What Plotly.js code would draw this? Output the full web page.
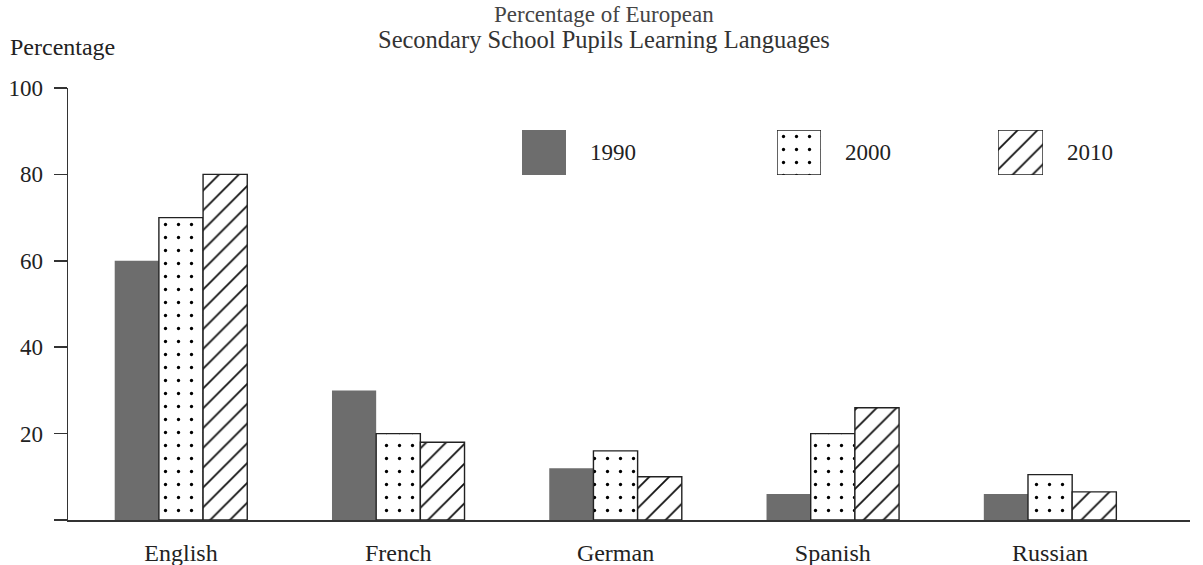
<!DOCTYPE html>
<html><head><meta charset="utf-8">
<script src="https://cdn.plot.ly/plotly-3.0.1.min.js"></script>
<style>html,body{margin:0;padding:0;background:#fff}#chart{width:1203px;height:565px}</style>
</head><body><div id="chart"></div>
<script>
const languages = ['English', 'French', 'German', 'Spanish', 'Russian'];
const years = ['1990', '2000', '2010'];
const values1990 = [60, 30, 12, 6, 6];
const values2000 = [70, 20, 16, 20, 10.5];
const values2010 = [80, 18, 10, 26, 6.5];
const yTicks = [0, 20, 40, 60, 80, 100];
const yTickLabels = ['', '20', '40', '60', '80', '100'];

const serif = '"Liberation Serif", "Times New Roman", serif';
const gray = '#6d6d6d';
const ink = '#222';

const styles = [
  {marker: {color: gray, line: {width: 0}}},
  {marker: {color: '#fff', line: {color: ink, width: 1.4},
    pattern: {shape: '.', fgcolor: '#000', fgopacity: 1, bgcolor: '#fff', size: 13, solidity: 0.05, fillmode: 'overlay'}}},
  {marker: {color: '#fff', line: {color: ink, width: 1.4},
    pattern: {shape: '/', fgcolor: '#111', fgopacity: 1, bgcolor: '#fff', size: 14, solidity: 0.13, fillmode: 'overlay'}}}
];
const series = [values1990, values2000, values2010];

const traces = series.map((vals, i) => Object.assign({
  type: 'bar', x: languages, y: vals, name: years[i], showlegend: false,
  hoverinfo: 'skip', xaxis: 'x', yaxis: 'y'
}, JSON.parse(JSON.stringify(styles[i]))));

// legend keys as small single-bar axes
const legendAxes = ['x2', 'x3', 'x4'];
years.forEach((yr, i) => {
  traces.push(Object.assign({
    type: 'bar', x: [yr], y: [1], width: [1], showlegend: false,
    hoverinfo: 'skip', xaxis: legendAxes[i], yaxis: 'y2'
  }, JSON.parse(JSON.stringify(styles[i]))));
});

const plotL = 68, plotR = 1190, plotT = 88, plotB = 520;
const W = plotR - plotL, H = plotB - plotT;
const px = p => (p - plotL) / W;
const py = p => (plotB - p) / H;

const legendBoxes = [[522, 566], [777, 821], [998, 1043]];
const legAxis = (b) => ({type: 'category', domain: [px(b[0]), px(b[1])], range: [-0.5, 0.5], anchor: 'y2',
  showticklabels: false, showline: false, showgrid: false, zeroline: false, ticks: '', fixedrange: true});

const layout = {
  width: 1203, height: 565,
  margin: {l: plotL, r: 1203 - plotR, t: plotT, b: 565 - plotB, pad: 0},
  paper_bgcolor: '#fff', plot_bgcolor: '#fff',
  barmode: 'group', bargap: 0.39, bargroupgap: 0,
  font: {family: serif, size: 23, color: ink},
  xaxis: {
    type: 'category', range: [-0.52, 4.644], showline: true, linecolor: '#333', linewidth: 1.5,
    ticks: '', showgrid: false, zeroline: false, ticklabelstandoff: 11,
    tickfont: {family: serif, size: 24, color: ink}
  },
  yaxis: {
    range: [0, 100], tickmode: 'array', tickvals: yTicks, ticktext: yTickLabels,
    ticks: 'outside', ticklen: 13, tickwidth: 1.5, tickcolor: '#333',
    showline: true, linecolor: '#333', linewidth: 1.5, showgrid: false, zeroline: false,
    ticklabelstandoff: 6, tickfont: {family: serif, size: 23, color: ink}
  },
  xaxis2: legAxis(legendBoxes[0]),
  xaxis3: legAxis(legendBoxes[1]),
  xaxis4: legAxis(legendBoxes[2]),
  yaxis2: {domain: [py(175), py(130)], range: [0, 1], anchor: 'x2', showticklabels: false,
    showline: false, showgrid: false, zeroline: false, ticks: '', fixedrange: true},
  annotations: [
    {text: 'Percentage of European', xref: 'paper', yref: 'paper', x: px(604), y: py(14),
      xanchor: 'center', yanchor: 'middle', showarrow: false, font: {family: serif, size: 23, color: '#444'}},
    {text: 'Secondary School Pupils Learning Languages', xref: 'paper', yref: 'paper', x: px(604), y: py(39),
      xanchor: 'center', yanchor: 'middle', showarrow: false, font: {family: serif, size: 24.5, color: '#333'}},
    {text: 'Percentage', xref: 'paper', yref: 'paper', x: px(8), y: py(47),
      xanchor: 'left', yanchor: 'middle', showarrow: false, font: {family: serif, size: 24, color: ink}}
  ].concat(years.map((yr, i) => ({
    text: yr, xref: 'paper', yref: 'paper', x: px(legendBoxes[i][1] + 22), y: py(153),
    xanchor: 'left', yanchor: 'middle', showarrow: false, font: {family: serif, size: 23, color: ink}
  })))
};

Plotly.newPlot('chart', traces, layout, {staticPlot: true, displayModeBar: false});
</script></body></html>
